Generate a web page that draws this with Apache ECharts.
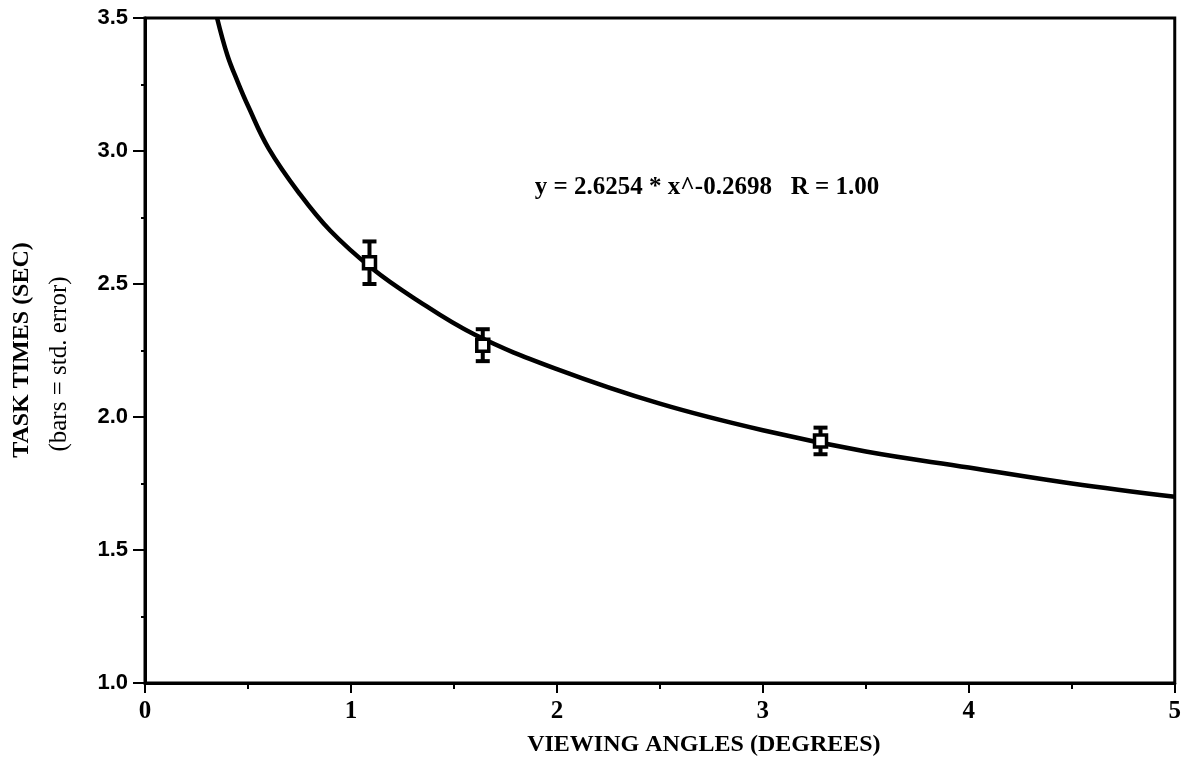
<!DOCTYPE html>
<html><head><meta charset="utf-8">
<script src="https://cdn.jsdelivr.net/npm/echarts@6/dist/echarts.min.js"></script>
<style>html,body{margin:0;padding:0;background:#fff}#c{width:1184px;height:770px}</style>
</head><body><div id="c"></div>
<script>
// Fitted curve, points
const curveX = [0.35, 0.4, 0.45, 0.5, 0.6, 0.75, 0.9, 1.1, 1.3, 1.6, 2.0, 2.5, 3.0, 3.5, 4.0, 4.5, 5.0];
const curveY = [3.50, 3.36, 3.26, 3.17, 3.01, 2.84, 2.70, 2.56, 2.45, 2.31, 2.18, 2.05, 1.95, 1.87, 1.81, 1.75, 1.70];
// Observed means and standard errors
const obsX = [1.09, 1.64, 3.28];
const obsY = [2.58, 2.27, 1.91];
const obsSE = [0.08, 0.06, 0.05];
const xTicks = [0, 1, 2, 3, 4, 5];
const yTicks = [1.0, 1.5, 2.0, 2.5, 3.0, 3.5];
const equationText = 'y = 2.6254 * x^-0.2698   R = 1.00';
const xTitle = 'VIEWING ANGLES (DEGREES)';
const yTitle1 = 'TASK TIMES (SEC)';
const yTitle2 = '(bars = std. error)';

const serif = '"Liberation Serif","DejaVu Serif",serif';
const sans = '"Liberation Sans","DejaVu Sans",sans-serif';
const chart = echarts.init(document.getElementById('c'));
chart.setOption({
  animation: false,
  backgroundColor: '#fff',
  grid: {left: 145, right: 7, top: 18, bottom: 87, show: true, borderColor: '#000', borderWidth: 3, backgroundColor: 'transparent'},
  xAxis: {
    type: 'value', min: xTicks[0], max: xTicks[xTicks.length - 1], interval: 1,
    axisLine: {lineStyle: {color: '#000', width: 3}},
    axisTick: {length: 10, lineStyle: {width: 2, color: '#000'}},
    minorTick: {show: true, splitNumber: 2, length: 6, lineStyle: {width: 2, color: '#000'}},
    splitLine: {show: false},
    axisLabel: {color: '#000', fontFamily: serif, fontWeight: 'bold', fontSize: 25, margin: 16},
    name: xTitle, nameLocation: 'middle', nameGap: 50,
    nameTextStyle: {color: '#000', fontFamily: serif, fontWeight: 'bold', fontSize: 24, padding: [0, 0, 0, 88]}
  },
  yAxis: {
    type: 'value', min: yTicks[0], max: yTicks[yTicks.length - 1], interval: 0.5,
    axisLine: {lineStyle: {color: '#000', width: 3}},
    axisTick: {length: 12, lineStyle: {width: 2, color: '#000'}},
    minorTick: {show: true, splitNumber: 2, length: 4, lineStyle: {width: 2, color: '#000'}},
    splitLine: {show: false},
    axisLabel: {color: '#000', fontFamily: sans, fontWeight: 'bold', fontSize: 22, margin: 17,
      formatter: v => v.toFixed(1)}
  },
  graphic: [
    {type: 'text', x: 22, y: 350, rotation: Math.PI / 2,
      style: {text: yTitle1, fill: '#000', font: 'bold 24px ' + serif, align: 'center', verticalAlign: 'middle'}},
    {type: 'text', x: 59, y: 364, rotation: Math.PI / 2,
      style: {text: yTitle2, fill: '#000', font: '25px ' + serif, align: 'center', verticalAlign: 'middle'}},
    {type: 'text', x: 707, y: 188,
      style: {text: equationText, fill: '#000', font: 'bold 25px ' + serif, align: 'center', verticalAlign: 'middle'}}
  ],
  series: [
    {type: 'line', data: curveX.map((x, i) => [x, curveY[i]]), smooth: 0.4, symbol: 'none',
      lineStyle: {color: '#000', width: 4.5}, z: 2},
    {type: 'custom', z: 3,
      data: obsX.map((x, i) => [x, obsY[i], obsSE[i]]),
      renderItem: function (params, api) {
        const x = api.value(0), y = api.value(1), se = api.value(2);
        const c = api.coord([x, y]);
        const top = api.coord([x, y + se]);
        const bot = api.coord([x, y - se]);
        const cap = 7, s = 6;
        const st = {stroke: '#000', lineWidth: 4, fill: null};
        return {type: 'group', children: [
          {type: 'line', shape: {x1: c[0], y1: top[1], x2: c[0], y2: bot[1]}, style: st},
          {type: 'line', shape: {x1: c[0] - cap, y1: top[1], x2: c[0] + cap, y2: top[1]}, style: st},
          {type: 'line', shape: {x1: c[0] - cap, y1: bot[1], x2: c[0] + cap, y2: bot[1]}, style: st},
          {type: 'rect', shape: {x: c[0] - s, y: c[1] - s, width: 2 * s, height: 2 * s}, style: {stroke: '#000', lineWidth: 3.5, fill: '#fff'}}
        ]};
      }}
  ]
});
</script></body></html>
